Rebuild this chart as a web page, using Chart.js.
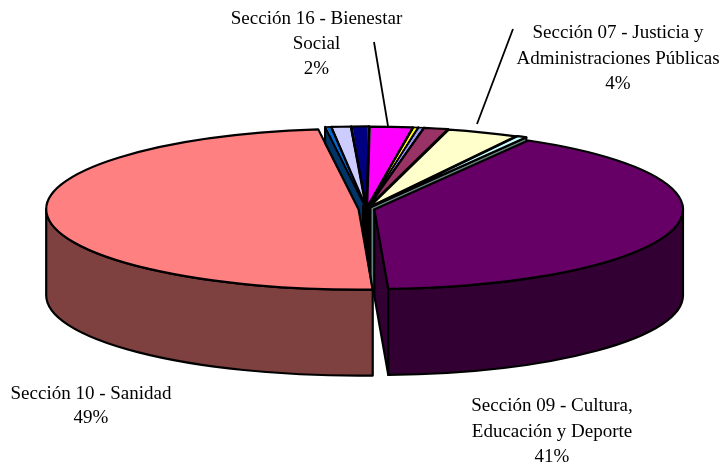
<!DOCTYPE html>
<html>
<head>
<meta charset="utf-8">
<title>Pie</title>
<script src="https://cdn.jsdelivr.net/npm/chart.js@4.4.1/dist/chart.umd.min.js"></script>
<style>
  html, body { margin: 0; padding: 0; background: #fff; }
  #wrap { width: 724px; height: 465px; }
</style>
</head>
<body>
<div id="wrap"><canvas id="chart" width="724" height="465"></canvas></div>
<script>
// only some slices carry a name in the picture, the rest stay as "Otras"
const categories = [
  "Otras A", "Otras B",
  "Sección 07 - Justicia y Administraciones Públicas",
  "Otras C",
  "Sección 09 - Cultura, Educación y Deporte",
  "Sección 10 - Sanidad",
  "Otras D", "Otras E", "Otras F",
  "Sección 16 - Bienestar Social",
  "Otras G",
];
const percentages = [0.28, 1.25, 3.7, 0.5, 41.0, 48.7, 0.3, 1.0, 0.9, 2.2, 0.25];
const sliceColors = [
  "#9999FF", "#993366", "#FFFFCC", "#CCFFFF", "#660066", "#FF8080",
  "#0066CC", "#CCCCFF", "#000080", "#FF00FF", "#FFFF00",
];
const labelBienestar = ["Sección 16 - Bienestar", "Social", "2%"];
const labelJusticia = ["Sección 07 - Justicia y", "Administraciones Públicas", "4%"];
const labelSanidad = ["Sección 10 - Sanidad", "49%"];
const labelCultura = ["Sección 09 - Cultura,", "Educación y Deporte", "41%"];

const squash = 0.2577;
const depth = 86;
const firstSliceAngle = 9.3;
const outline = 2.2;
const thinOutline = 1.5;
// back slices first, from the top of the pie outwards, the two big ones last
const wallOrder = [8, 7, 6, 9, 10, 0, 1, 2, 3];
const frontSlices = [4, 5];

function halfShade(hex) {
  const n = parseInt(hex.slice(1), 16);
  return `rgb(${(n >> 16) >> 1}, ${((n >> 8) & 255) >> 1}, ${(n & 255) >> 1})`;
}

// same shift and radius growth that ArcElement.draw uses for its offset
function sliceGeometry(arc) {
  const d = (arc.options.offset || 0) / 4;
  const mid = (arc.startAngle + arc.endAngle) / 2;
  const sweep = arc.endAngle - arc.startAngle;
  const fix = 1 - Math.sin(Math.min(Math.PI, sweep));
  return {
    x: arc.x + Math.cos(mid) * d,
    y: arc.y + Math.sin(mid) * d * squash,
    r: arc.outerRadius + d * fix,
    a0: arc.startAngle,
    a1: arc.endAngle,
    sweep,
  };
}

function paintPath(ctx, fill, build) {
  ctx.beginPath();
  build();
  ctx.closePath();
  if (fill) {
    ctx.fillStyle = fill;
    ctx.fill();
  }
  ctx.stroke();
}

function drawCutFace(ctx, g, angle, fill) {
  const rimX = g.x + Math.cos(angle) * g.r;
  const rimY = g.y + Math.sin(angle) * g.r * squash;
  paintPath(ctx, fill, () => {
    ctx.moveTo(g.x, g.y);
    ctx.lineTo(rimX, rimY);
    ctx.lineTo(rimX, rimY + depth);
    ctx.lineTo(g.x, g.y + depth);
  });
}

function drawWalls(ctx, arc, color) {
  const g = sliceGeometry(arc);
  const fill = halfShade(color);
  if (Math.cos(g.a0) < 0) drawCutFace(ctx, g, g.a0, fill);
  if (Math.cos(g.a1) > 0) drawCutFace(ctx, g, g.a1, fill);
  // front part of the rim, canvas angles 0..PI
  for (const shift of [0, Math.PI * 2, -Math.PI * 2]) {
    const from = Math.max(g.a0 + shift, 0);
    const to = Math.min(g.a1 + shift, Math.PI);
    if (to <= from) continue;
    paintPath(ctx, fill, () => {
      ctx.ellipse(g.x, g.y, g.r, g.r * squash, 0, from, to);
      ctx.ellipse(g.x, g.y + depth, g.r, g.r * squash, 0, to, from, true);
    });
  }
}

function drawTextBlock(ctx, lines, cx, top, step) {
  lines.forEach((line, i) => ctx.fillText(line, cx, top + i * step));
}

const pie3d = {
  id: "pie3d",
  beforeDatasetsDraw(chart) {
    const { ctx } = chart;
    const arcs = chart.getDatasetMeta(0).data;
    ctx.save();
    ctx.strokeStyle = "#000";
    ctx.lineWidth = outline;
    ctx.lineJoin = "round";
    wallOrder.forEach((i) => drawWalls(ctx, arcs[i], sliceColors[i]));
    // the small slices pile their edges up into a black column in the middle
    const c = arcs[0];
    ctx.fillStyle = "#000";
    ctx.fillRect(c.x - 4.5, c.y - 4, 7.5, depth);
    frontSlices.forEach((i) => drawWalls(ctx, arcs[i], sliceColors[i]));
    ctx.restore();

    // squash the flat pie for the library's own slices
    ctx.save();
    ctx.translate(0, c.y);
    ctx.scale(1, squash);
    ctx.translate(0, -c.y);
  },
  afterDatasetsDraw(chart) {
    const { ctx } = chart;
    ctx.restore();
    const arcs = chart.getDatasetMeta(0).data;
    ctx.save();
    ctx.strokeStyle = "#000";
    ctx.lineJoin = "round";
    arcs.forEach((arc) => {
      const g = sliceGeometry(arc);
      ctx.lineWidth = g.sweep < 0.03 ? thinOutline : outline;
      paintPath(ctx, null, () => {
        ctx.moveTo(g.x, g.y);
        ctx.ellipse(g.x, g.y, g.r, g.r * squash, 0, g.a0, g.a1);
      });
    });

    ctx.lineWidth = 1.8;
    ctx.beginPath();
    ctx.moveTo(374, 42);
    ctx.lineTo(388, 126);
    ctx.moveTo(513, 29);
    ctx.lineTo(477, 124);
    ctx.stroke();

    ctx.fillStyle = "#000";
    ctx.font = '19px "Liberation Serif", "Times New Roman", serif';
    ctx.textAlign = "center";
    ctx.textBaseline = "alphabetic";
    drawTextBlock(ctx, labelBienestar, 316.5, 24, 25);
    drawTextBlock(ctx, labelJusticia, 618, 38, 25.5);
    drawTextBlock(ctx, labelSanidad, 91, 399, 24);
    drawTextBlock(ctx, labelCultura, 552, 411, 25.5);
    ctx.restore();
  },
};

new Chart(document.getElementById("chart"), {
  type: "pie",
  data: {
    labels: categories,
    datasets: [
      {
        data: percentages,
        backgroundColor: sliceColors,
        borderWidth: 0,
        offset: 32,
        clip: false,
      },
    ],
  },
  options: {
    responsive: false,
    animation: false,
    events: [],
    radius: 305,
    rotation: firstSliceAngle,
    layout: { padding: { left: 9, bottom: 47 } },
    plugins: {
      legend: { display: false },
      title: { display: false },
      tooltip: { enabled: false },
    },
  },
  plugins: [pie3d],
});
</script>
</body>
</html>
